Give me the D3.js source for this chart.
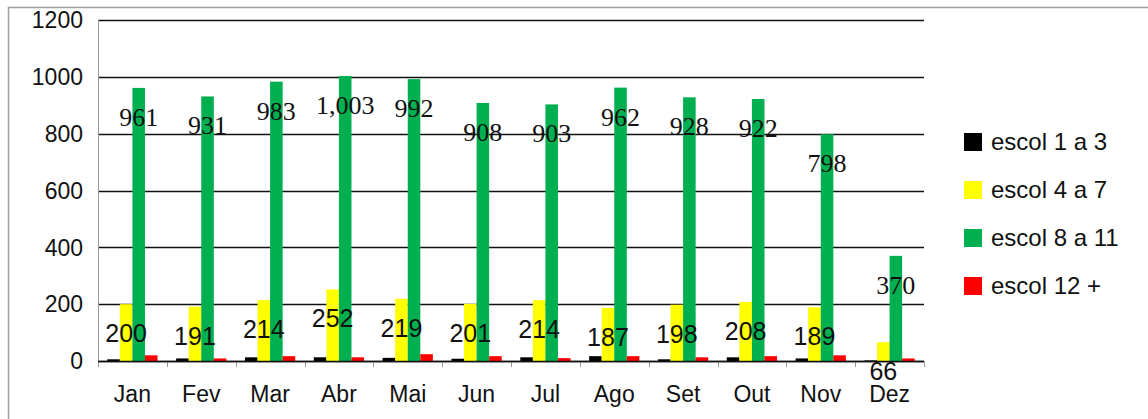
<!DOCTYPE html>
<html>
<head>
<meta charset="utf-8">
<script src="https://cdn.jsdelivr.net/npm/d3@7"></script>
<style>
  body { margin: 0; background: #fff; }
  svg { display: block; }
</style>
</head>
<body>
<svg id="chart" width="1148" height="419"></svg>
<script>
// months and series
var months = ["Jan", "Fev", "Mar", "Abr", "Mai", "Jun", "Jul", "Ago", "Set", "Out", "Nov", "Dez"];
var seriesNames = ["escol 1 a 3", "escol 4 a 7", "escol 8 a 11", "escol 12 +"];
var seriesColors = ["#000000", "#ffff00", "#00b050", "#ff0000"];

var escol1a3 = [6, 9, 13, 13, 11, 8, 13, 17, 6, 13, 9, 2];
var escol4a7 = [200, 191, 214, 252, 219, 201, 214, 187, 198, 208, 189, 66];
var escol8a11 = [961, 931, 983, 1003, 992, 908, 903, 962, 928, 922, 798, 370];
var escol12 = [20, 9, 17, 13, 24, 17, 10, 17, 13, 17, 20, 9];

var yTicks = [0, 200, 400, 600, 800, 1000, 1200];

var allSeries = [escol1a3, escol4a7, escol8a11, escol12];

var svg = d3.select("#chart");

// outer chart border
svg.append("rect")
  .attr("x", 8.5).attr("y", 7.5)
  .attr("width", 1160).attr("height", 430)
  .attr("fill", "none")
  .attr("stroke", "#a0a0a0")
  .attr("stroke-width", 1.5);

var plotLeft = 98, plotRight = 924, plotTop = 20, plotBottom = 361;

var x = d3.scaleBand()
  .domain(months)
  .range([plotLeft, plotRight])
  .paddingInner(0.27)
  .paddingOuter(0.135);

var xs = d3.scaleBand()
  .domain(d3.range(allSeries.length))
  .range([0, x.bandwidth()]);

var y = d3.scaleLinear()
  .domain([0, 1200])
  .range([plotBottom, plotTop]);

// gridlines
svg.append("g")
  .selectAll("line")
  .data(yTicks)
  .join("line")
  .attr("x1", plotLeft).attr("x2", plotRight)
  .attr("y1", d => Math.round(y(d)) + 0.5)
  .attr("y2", d => Math.round(y(d)) + 0.5)
  .attr("stroke", "#111")
  .attr("stroke-width", 1.3);

// y axis labels
svg.append("g")
  .selectAll("text")
  .data(yTicks)
  .join("text")
  .attr("x", 83)
  .attr("y", d => y(d))
  .attr("dy", "0.36em")
  .attr("text-anchor", "end")
  .attr("font-family", "Liberation Sans, Arial, sans-serif")
  .attr("font-size", 23)
  .attr("fill", "#111")
  .text(d => d);

// y axis line
svg.append("line")
  .attr("x1", plotLeft + 0.5).attr("x2", plotLeft + 0.5)
  .attr("y1", plotTop).attr("y2", plotBottom + 6)
  .attr("stroke", "#999").attr("stroke-width", 1);

// x axis category ticks
var boundaries = months.map(m => x(m) - x.step() * x.paddingInner() / 2).concat([plotRight]);
svg.append("g")
  .selectAll("line")
  .data(boundaries)
  .join("line")
  .attr("x1", d => Math.round(d) + 0.5).attr("x2", d => Math.round(d) + 0.5)
  .attr("y1", plotBottom).attr("y2", plotBottom + 6)
  .attr("stroke", "#999");

// bars
var groups = svg.append("g")
  .selectAll("g")
  .data(months)
  .join("g")
  .attr("transform", d => `translate(${x(d)},0)`);

groups.selectAll("rect")
  .data((m, i) => allSeries.map((s, k) => ({ k: k, v: s[i] })))
  .join("rect")
  .attr("x", d => xs(d.k))
  .attr("width", xs.bandwidth())
  .attr("y", d => y(d.v))
  .attr("height", d => plotBottom - y(d.v))
  .attr("fill", d => seriesColors[d.k]);

// x axis line
svg.append("line")
  .attr("x1", plotLeft).attr("x2", plotRight)
  .attr("y1", plotBottom + 0.5).attr("y2", plotBottom + 0.5)
  .attr("stroke", "#111").attr("stroke-width", 1.5);

// x labels
svg.append("g")
  .selectAll("text")
  .data(months)
  .join("text")
  .attr("x", d => x(d) + x.bandwidth() / 2)
  .attr("y", 402)
  .attr("text-anchor", "middle")
  .attr("font-family", "Liberation Sans, Arial, sans-serif")
  .attr("font-size", 23)
  .attr("fill", "#111")
  .text(d => d);

// data labels for escol 4 a 7 (sans)
svg.append("g")
  .selectAll("text")
  .data(escol4a7)
  .join("text")
  .attr("x", (d, i) => x(months[i]) + xs(1) + xs.bandwidth() / 2)
  .attr("y", d => y(d) + 38)
  .attr("text-anchor", "middle")
  .attr("font-family", "Liberation Sans, Arial, sans-serif")
  .attr("font-size", 25)
  .attr("fill", "#111")
  .text(d => d3.format(",")(d));

// data labels for escol 8 a 11 (serif)
svg.append("g")
  .selectAll("text")
  .data(escol8a11)
  .join("text")
  .attr("x", (d, i) => x(months[i]) + xs(2) + xs.bandwidth() / 2)
  .attr("y", d => y(d) + 38)
  .attr("text-anchor", "middle")
  .attr("font-family", "Liberation Serif, Times New Roman, serif")
  .attr("font-size", 26)
  .attr("fill", "#111")
  .text(d => d3.format(",")(d));

// legend
var legend = svg.append("g")
  .selectAll("g")
  .data(seriesNames)
  .join("g")
  .attr("transform", (d, i) => `translate(964,${133 + i * 48})`);

legend.append("rect")
  .attr("width", 18).attr("height", 18)
  .attr("fill", (d, i) => seriesColors[i]);

legend.append("text")
  .attr("x", 27)
  .attr("y", 17)
  .attr("font-family", "Liberation Sans, Arial, sans-serif")
  .attr("font-size", 24)
  .attr("fill", "#111")
  .text(d => d);
</script>
</body>
</html>
